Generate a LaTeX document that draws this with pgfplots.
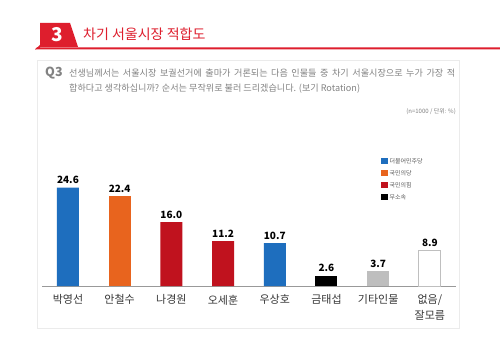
\documentclass[border=0pt]{standalone}
\usepackage{fontspec}
\setmainfont{Noto Sans CJK KR}
\usepackage{pgfplots}
\pgfplotsset{compat=1.18}
\definecolor{hdrred}{RGB}{222,30,45}
\definecolor{cblue}{RGB}{30,110,190}
\definecolor{corange}{RGB}{232,100,30}
\definecolor{cred}{RGB}{192,18,30}
\definecolor{cgray}{RGB}{190,190,190}
\definecolor{txtgray}{RGB}{130,130,130}
\definecolor{labgray}{RGB}{55,55,55}
\begin{document}
\begin{tikzpicture}[x=1pt,y=1pt]
\path[use as bounding box, fill=white] (0,0) rectangle (500,340);
% header
\fill[hdrred] (40,317) -- (70,317) -- (78,293) -- (40,293) -- cycle;
\fill[hdrred] (35,290.5) -- (500,290.5) -- (500,292.5) -- (37,292.5) -- cycle;
\fill[hdrred] (35,290.5) -- (40,295) -- (40,292) -- cycle;
\node[text=white, font=\bfseries\fontsize{19}{19}\selectfont] at (57,305.5) {3};
\node[anchor=west, text=hdrred, font=\fontsize{14}{15}\selectfont, inner sep=0] at (83,306) {차기 서울시장 적합도};
% panel
\draw[color=black!8, line width=0.6] (37,280) rectangle (459,12);
\node[anchor=west, text=txtgray, font=\bfseries\fontsize{12.5}{12.5}\selectfont, inner sep=0] at (45,267) {Q3};
\node[anchor=west, text=txtgray, font=\fontsize{9.1}{10}\selectfont, inner sep=0] at (69,266.5) {\makebox[386pt][s]{선생님께서는 서울시장 보궐선거에 출마가 거론되는 다음 인물들 중 차기 서울시장으로 누가 가장 적}};
\node[anchor=west, text=txtgray, font=\fontsize{9.1}{10}\selectfont, inner sep=0] at (69,251.5) {합하다고 생각하십니까? 순서는 무작위로 불러 드리겠습니다. (보기 Rotation)};
\node[anchor=east, text=txtgray, font=\fontsize{6}{7}\selectfont, inner sep=0] at (456,228) {(n=1000 / 단위: \%)};
\begin{axis}[
  at={(42.1pt,54pt)}, anchor=south west,
  scale only axis, width=413.6pt, height=100pt,
  xmin=-0.5, xmax=7.5, ymin=0, ymax=25,
  clip=false,
  /pgf/number format/assume math mode=true,
  ybar, bar width=22pt, bar shift=0pt,
  axis x line*=bottom, axis y line=none,
  x axis line style={color=black!40, line width=0.8pt},
  xtick={0,1,2,3,4,5,6,7},
  xticklabels={박영선,안철수,나경원,오세훈,우상호,금태섭,기타인물,{없음/\\잘모름}},
  xtick style={draw=none},
  xticklabel style={text=labgray, font=\fontsize{11}{16}\selectfont, align=center, yshift=-1pt},
  nodes near coords={\pgfmathprintnumber[fixed,fixed zerofill,precision=1]{\pgfplotspointmeta}},
  nodes near coords style={font=\bfseries\fontsize{10}{10}\selectfont, text=black},
  legend style={at={(0.812,1.32)}, anchor=north west, draw=none, fill=none,
    font=\fontsize{6}{7}\selectfont, text=black!65, row sep=1.5pt,
    legend cell align=left},
  legend image code/.code={\fill[#1] (0pt,-3pt) rectangle (6.5pt,3.5pt);},
]
\addplot[fill=cblue, draw=none] coordinates {(0,24.6) (4,10.7)};
\addplot[fill=corange, draw=none] coordinates {(1,22.4)};
\addplot[fill=cred, draw=none] coordinates {(2,16.0) (3,11.2)};
\addplot[fill=black, draw=none] coordinates {(5,2.6)};
\addplot[fill=cgray, draw=none] coordinates {(6,3.7)};
\addplot[fill=white, draw=black!25, line width=0.8pt] coordinates {(7,8.9)};
\legend{더불어민주당,국민의당,국민의힘,무소속}
\end{axis}
\end{tikzpicture}
\end{document}
